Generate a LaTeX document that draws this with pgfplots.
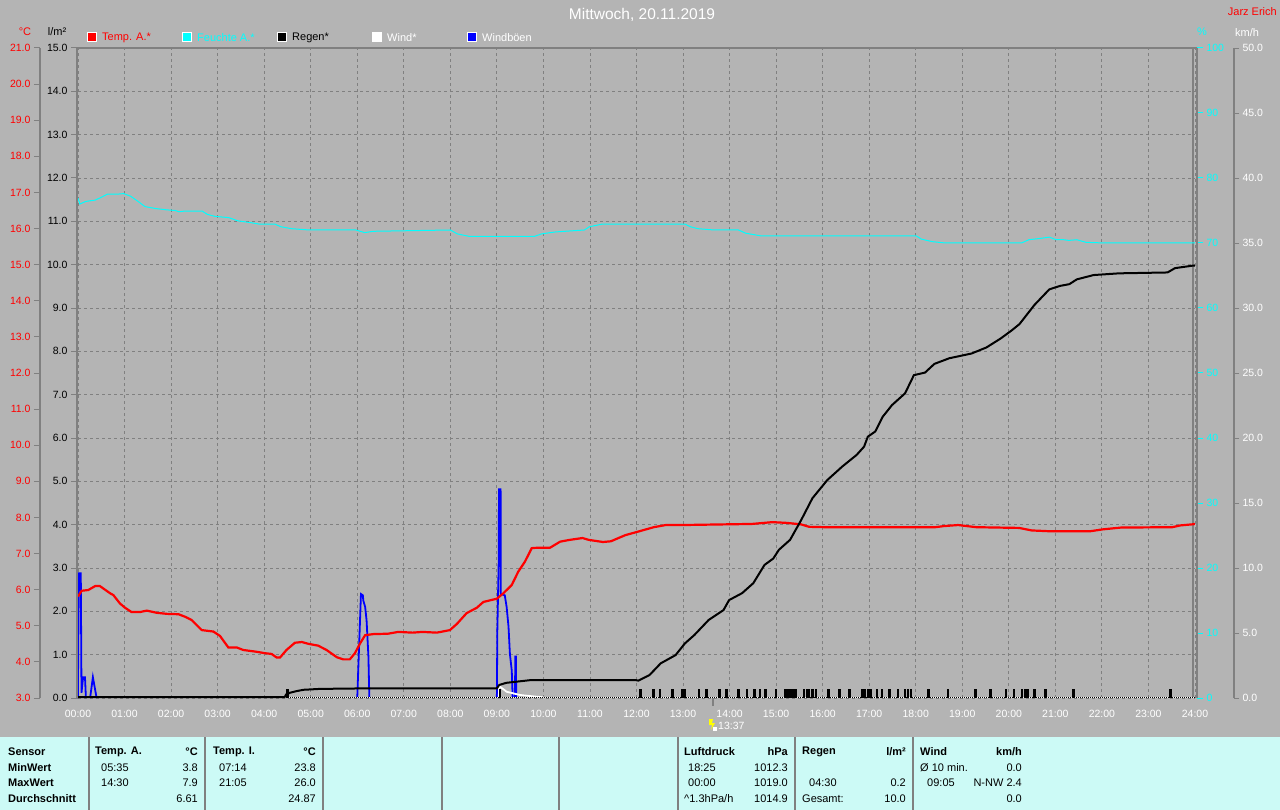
\documentclass[border=0pt]{standalone}
\usepackage{pgfplots}
\pgfplotsset{compat=1.18}
\usepackage{fontspec}
\setmainfont{Liberation Sans}
\definecolor{bg}{RGB}{180,180,180}
\definecolor{tbl}{RGB}{204,250,246}
\definecolor{grd}{RGB}{128,128,128}
\definecolor{cy}{RGB}{0,255,255}
\definecolor{bl}{RGB}{0,0,255}
\definecolor{rd}{RGB}{255,0,0}
\definecolor{yl}{RGB}{255,255,0}
\newcommand{\tf}{\fontsize{10.5}{12}\selectfont}
\newcommand{\nf}{\fontsize{11}{13}\selectfont}
\pgfplotsset{
  base/.style={scale only axis, width=1117pt, height=650pt, at={(78pt,-698pt)}, anchor=south west, xmin=0, xmax=24},
  hid/.style={base, hide axis},
  scl/.style={scale only axis, width=10pt, height=650pt, anchor=south west, xmin=0, xmax=1, hide x axis,
     axis line style={draw=none}, tick align=outside, tick label style={font=\tf}},
}
\begin{document}
\begin{tikzpicture}
\path[use as bounding box, fill=bg] (0,0) rectangle (1280pt,-810pt);
% table area
\fill[tbl] (0,-737pt) rectangle (1280pt,-810pt);
\foreach \x in {89,205,323,442,559,678,795,913}{\draw[grd, line width=1.3pt] (\x pt,-737pt) -- (\x pt,-810pt);}

% main axis: grid, rain scale, time labels
\begin{axis}[base, ymin=0, ymax=15,
  axis line style={draw=none},
  xtick={0,...,24},
  xticklabels={00:00,01:00,02:00,03:00,04:00,05:00,06:00,07:00,08:00,09:00,10:00,11:00,12:00,13:00,14:00,15:00,16:00,17:00,18:00,19:00,20:00,21:00,22:00,23:00,24:00},
  ytick={0,...,15},
  grid=major, major grid style={draw=grd, dash pattern=on 3pt off 3pt, line width=0.9pt},
  ytick pos=left, tick align=outside, major tick length=7pt,
  x tick style={draw=none}, y tick style={draw=grd, line width=1pt},
  tick label style={font=\tf},
  xticklabel style={white, yshift=-1.5pt},
  yticklabel style={black},
  yticklabel={\pgfmathprintnumber[fixed,fixed zerofill,precision=1,assume math mode=true]{\tick}},
]
\end{axis}

% temperature scale (left, red)
\begin{axis}[scl, at={(40pt,-698pt)}, ymin=3, ymax=21, ytick={3,...,21}, ytick pos=left,
  major tick length=6pt, y tick style={draw=grd, line width=1pt},
  yticklabel style={rd},
  yticklabel={\pgfmathprintnumber[fixed,fixed zerofill,precision=1,assume math mode=true]{\tick}}]
\end{axis}
% humidity scale (right, cyan)
\begin{axis}[scl, at={(1187pt,-698pt)}, ymin=0, ymax=100, ytick={0,10,...,100}, ytick pos=right,
  major tick length=6pt, y tick style={draw=cy, line width=1pt},
  yticklabel style={cy},
  yticklabel={\pgfmathprintnumber[fixed,precision=0,assume math mode=true]{\tick}}]
\end{axis}
% wind scale (right, white)
\begin{axis}[scl, at={(1224pt,-698pt)}, ymin=0, ymax=50, ytick={0,5,...,50}, ytick pos=right,
  major tick length=5pt, y tick style={draw=grd, line width=1pt},
  yticklabel style={white},
  yticklabel={\pgfmathprintnumber[fixed,fixed zerofill,precision=1,assume math mode=true]{\tick}}]
\end{axis}

% scale lines and frame
\draw[grd, line width=1.5pt] (40pt,-48pt) -- (40pt,-698pt);
\draw[grd, line width=1.5pt] (1234pt,-48pt) -- (1234pt,-698pt);
\draw[grd, line width=2.5pt] (77pt,-698pt) -- (77pt,-48pt) -- (1197pt,-48pt);
\draw[grd, line width=1.2pt] (1193pt,-48pt) -- (1193pt,-698pt);
\draw[grd, line width=2pt] (1197pt,-48pt) -- (1197pt,-698pt);

% humidity data
\begin{axis}[hid, ymin=0, ymax=100]
\addplot[cy, line width=1pt] coordinates {(0,76.9)(0.04,76.0)(0.17,76.4)(0.37,76.6)(0.52,77.1)(0.63,77.5)(0.83,77.5)(0.98,77.6)(1.13,77.2)(1.29,76.4)(1.44,75.6)(1.67,75.3)(1.90,75.1)(2.09,75.0)(2.17,74.8)(2.28,74.9)(2.67,74.9)(2.78,74.4)(2.94,74.1)(3.24,73.9)(3.44,73.4)(3.74,73.1)(3.90,72.9)(4.23,72.9)(4.36,72.5)(4.59,72.2)(4.97,72.0)(5.97,72.0)(6.16,71.6)(6.35,71.8)(8.00,72.0)(8.15,71.4)(8.42,71.0)(9.80,71.0)(9.96,71.4)(10.26,71.7)(10.88,72.0)(10.99,72.5)(11.26,72.9)(13.04,72.9)(13.16,72.5)(13.32,72.2)(13.67,72.0)(14.19,72.0)(14.35,71.5)(14.67,71.1)(18.01,71.1)(18.12,70.6)(18.36,70.2)(18.64,70.0)(20.27,70.0)(20.43,70.5)(20.67,70.7)(20.87,70.9)(21.02,70.5)(21.18,70.5)(21.29,70.4)(21.46,70.5)(21.66,70.1)(22.06,70.0)(24,70.0)};
\end{axis}

% wind and gust data
\begin{axis}[hid, ymin=0, ymax=50]
\addplot[bl, line width=1.8pt] coordinates {(0,0)(0.003,3.2)(0.02,9.6)(0.06,9.6)(0.075,0.4)(0.11,1.6)(0.15,1.6)(0.17,0)};
\addplot[bl, line width=1.8pt] coordinates {(0.26,0)(0.32,1.6)(0.40,0)};
\addplot[bl, line width=1.8pt] coordinates {(6.00,0)(6.06,6.0)(6.08,8.0)(6.12,7.9)(6.13,7.5)(6.17,7.0)(6.20,6.0)(6.24,3.2)(6.26,0)};
\addplot[bl, line width=1.8pt] coordinates {(9.00,0)(9.01,5.2)(9.04,10.6)(9.045,16.05)(9.08,16.05)(9.085,8.0)(9.17,7.9)(9.21,7.0)(9.25,5.5)(9.28,3.4)(9.32,2.1)(9.34,0)};
\addplot[bl, line width=1.8pt] coordinates {(9.39,0)(9.395,3.2)(9.41,3.2)(9.415,0)};
\addplot[white, line width=1.8pt] coordinates {(9.04,0)(9.05,0.92)(9.21,0.48)(9.35,0.36)(9.50,0.23)(9.85,0.10)(10.0,0.05)};
\end{axis}

% temperature data
\begin{axis}[hid, ymin=3, ymax=21]
\addplot[rd, line width=2.2pt] coordinates {(0,5.81)(0.08,5.97)(0.22,5.99)(0.37,6.10)(0.47,6.10)(0.69,5.90)(0.76,5.85)(0.90,5.62)(1.01,5.50)(1.15,5.38)(1.33,5.38)(1.48,5.42)(1.69,5.36)(1.91,5.33)(2.16,5.32)(2.30,5.25)(2.44,5.16)(2.66,4.88)(2.91,4.84)(3.05,4.72)(3.23,4.40)(3.41,4.40)(3.55,4.33)(3.84,4.28)(4.02,4.24)(4.16,4.22)(4.27,4.12)(4.34,4.12)(4.48,4.33)(4.66,4.53)(4.81,4.55)(4.95,4.50)(5.16,4.45)(5.34,4.33)(5.56,4.13)(5.70,4.07)(5.84,4.07)(5.95,4.24)(6.06,4.51)(6.17,4.74)(6.35,4.77)(6.66,4.78)(6.88,4.83)(7.19,4.81)(7.40,4.83)(7.71,4.81)(7.99,4.88)(8.14,5.05)(8.35,5.35)(8.57,5.50)(8.71,5.66)(9.00,5.75)(9.14,5.90)(9.32,6.13)(9.46,6.50)(9.60,6.77)(9.75,7.15)(9.86,7.16)(10.14,7.16)(10.36,7.33)(10.57,7.38)(10.84,7.43)(10.97,7.38)(11.28,7.32)(11.45,7.34)(11.76,7.51)(12.07,7.62)(12.37,7.73)(12.63,7.79)(12.99,7.79)(14.48,7.82)(14.92,7.87)(15.22,7.85)(15.53,7.81)(15.71,7.74)(16.06,7.73)(18.42,7.73)(18.60,7.76)(18.91,7.79)(19.30,7.73)(20.22,7.71)(20.49,7.64)(20.84,7.62)(21.76,7.62)(22.02,7.67)(22.41,7.72)(23.51,7.73)(23.69,7.78)(23.95,7.81)(24,7.82)};
\end{axis}

% rain data
\begin{axis}[hid, ymin=0, ymax=15]
\addplot[black, line width=1.2pt] coordinates {(4.45,0.02)(24,0.02)};
\addplot[white, line width=1.2pt, dash pattern=on 1pt off 1pt] coordinates {(4.45,0.02)(24,0.02)};
\addplot[black, line width=2.5pt, ycomb, no marks] coordinates {(4.50,0.2)(9.07,0.2)(12.09,0.2)(12.36,0.2)(12.51,0.2)(12.77,0.2)(12.99,0.2)(13.03,0.2)(13.34,0.2)(13.50,0.2)(13.78,0.2)(13.93,0.2)(14.19,0.2)(14.37,0.2)(14.54,0.2)(14.65,0.2)(14.77,0.2)(15.00,0.2)(15.20,0.2)(15.27,0.2)(15.31,0.2)(15.36,0.2)(15.42,0.2)(15.60,0.2)(15.66,0.2)(15.71,0.2)(15.78,0.2)(15.86,0.2)(16.13,0.2)(16.36,0.2)(16.58,0.2)(16.86,0.2)(16.91,0.2)(16.98,0.2)(17.04,0.2)(17.17,0.2)(17.27,0.2)(17.44,0.2)(17.62,0.2)(17.77,0.2)(17.83,0.2)(17.90,0.2)(18.27,0.2)(18.69,0.2)(19.28,0.2)(19.61,0.2)(19.94,0.2)(20.11,0.2)(20.28,0.2)(20.35,0.2)(20.40,0.2)(20.55,0.2)(20.79,0.2)(21.39,0.2)(23.47,0.2)};
\addplot[black, line width=2pt] coordinates {(0,0.02)(4.44,0.02)(4.47,0.08)(4.55,0.12)(4.70,0.16)(4.85,0.19)(5.20,0.21)(6.00,0.22)(9.00,0.22)(9.05,0.30)(9.20,0.35)(9.45,0.38)(9.70,0.41)(12.00,0.41)(12.04,0.40)(12.28,0.53)(12.52,0.80)(12.84,0.99)(13.04,1.26)(13.24,1.45)(13.55,1.80)(13.87,2.03)(13.99,2.26)(14.27,2.42)(14.51,2.65)(14.75,3.07)(14.94,3.22)(15.06,3.42)(15.30,3.65)(15.54,4.11)(15.78,4.61)(16.10,5.03)(16.42,5.34)(16.73,5.61)(16.89,5.80)(16.97,6.03)(17.13,6.15)(17.29,6.49)(17.49,6.76)(17.77,7.03)(17.96,7.45)(18.20,7.51)(18.40,7.71)(18.72,7.84)(19.20,7.95)(19.52,8.09)(19.83,8.30)(20.07,8.49)(20.23,8.63)(20.55,9.07)(20.87,9.43)(21.10,9.51)(21.30,9.55)(21.46,9.66)(21.82,9.76)(22.37,9.80)(23.41,9.82)(23.57,9.92)(23.97,9.98)(24,9.98)};
\end{axis}

% header texts
\node[white, font=\fontsize{15.5}{18}\selectfont] at (642pt,-15pt) {Mittwoch, 20.11.2019};
\node[rd, font=\nf, anchor=east, inner sep=0pt] at (1277pt,-12pt) {Jarz Erich};
\node[rd, font=\nf] at (25pt,-32pt) {°C};
\node[black, font=\nf] at (57pt,-32pt) {l/m²};
\node[cy, font=\nf] at (1202pt,-32pt) {\%};
\node[white, font=\nf] at (1247pt,-33pt) {km/h};
% legend
\foreach \x/\c/\t/\tc in {87/rd/Temp. A.*/rd, 182/cy/Feuchte A.*/cy, 277/black/Regen*/black, 372/white/Wind*/white, 467/bl/Windböen/white}{
  \filldraw[fill=\c, draw=white, line width=1pt] (\x pt,-33pt) rectangle ++(9pt,-9pt);
  \node[\tc, font=\nf, anchor=west, inner sep=0pt] at (\x pt+15pt,-38pt) {\t};
}
% current time marker
\draw[grd, line width=1.2pt] (713pt,-698pt) -- (713pt,-706pt);
\fill[yl] (709pt,-719pt) -- (713pt,-719pt) -- (712pt,-723pt) -- (715pt,-723pt) -- (711pt,-730pt) -- (712pt,-725pt) -- (709pt,-725pt) -- cycle;
\fill[white] (713pt,-727pt) rectangle (717pt,-731pt);
\node[white, font=\tf, anchor=west, inner sep=0pt] at (718pt,-726pt) {13:37};

% table texts
\begin{scope}[every node/.style={font=\nf, inner sep=0pt, text=black}]
\node[anchor=west] at (8pt,-752pt) {\bfseries Sensor};
\node[anchor=west] at (8pt,-768pt) {\bfseries MinWert};
\node[anchor=west] at (8pt,-783pt) {\bfseries MaxWert};
\node[anchor=west] at (8pt,-799pt) {\bfseries Durchschnitt};
\node[anchor=west] at (95pt,-752pt) {\bfseries Temp. A.};
\node[anchor=east] at (198pt,-752pt) {\bfseries °C};
\node[anchor=west] at (101pt,-768pt) {05:35};
\node[anchor=east] at (198pt,-768pt) {3.8};
\node[anchor=west] at (101pt,-783pt) {14:30};
\node[anchor=east] at (198pt,-783pt) {7.9};
\node[anchor=east] at (198pt,-799pt) {6.61};
\node[anchor=west] at (213pt,-752pt) {\bfseries Temp. I.};
\node[anchor=east] at (316pt,-752pt) {\bfseries °C};
\node[anchor=west] at (219pt,-768pt) {07:14};
\node[anchor=east] at (316pt,-768pt) {23.8};
\node[anchor=west] at (219pt,-783pt) {21:05};
\node[anchor=east] at (316pt,-783pt) {26.0};
\node[anchor=east] at (316pt,-799pt) {24.87};
\node[anchor=west] at (684pt,-752pt) {\bfseries Luftdruck};
\node[anchor=east] at (788pt,-752pt) {\bfseries hPa};
\node[anchor=west] at (688pt,-768pt) {18:25};
\node[anchor=east] at (788pt,-768pt) {1012.3};
\node[anchor=west] at (688pt,-783pt) {00:00};
\node[anchor=east] at (788pt,-783pt) {1019.0};
\node[anchor=west] at (684pt,-799pt) {\^{}1.3hPa/h};
\node[anchor=east] at (788pt,-799pt) {1014.9};
\node[anchor=west] at (802pt,-752pt) {\bfseries Regen};
\node[anchor=east] at (906pt,-752pt) {\bfseries l/m²};
\node[anchor=west] at (809pt,-783pt) {04:30};
\node[anchor=east] at (906pt,-783pt) {0.2};
\node[anchor=west] at (802pt,-799pt) {Gesamt:};
\node[anchor=east] at (906pt,-799pt) {10.0};
\node[anchor=west] at (920pt,-752pt) {\bfseries Wind};
\node[anchor=east] at (1022pt,-752pt) {\bfseries km/h};
\node[anchor=west] at (920pt,-768pt) {Ø 10 min.};
\node[anchor=east] at (1022pt,-768pt) {0.0};
\node[anchor=west] at (927pt,-783pt) {09:05};
\node[anchor=east] at (1022pt,-783pt) {N-NW 2.4};
\node[anchor=east] at (1022pt,-799pt) {0.0};
\end{scope}
\end{tikzpicture}
\end{document}
